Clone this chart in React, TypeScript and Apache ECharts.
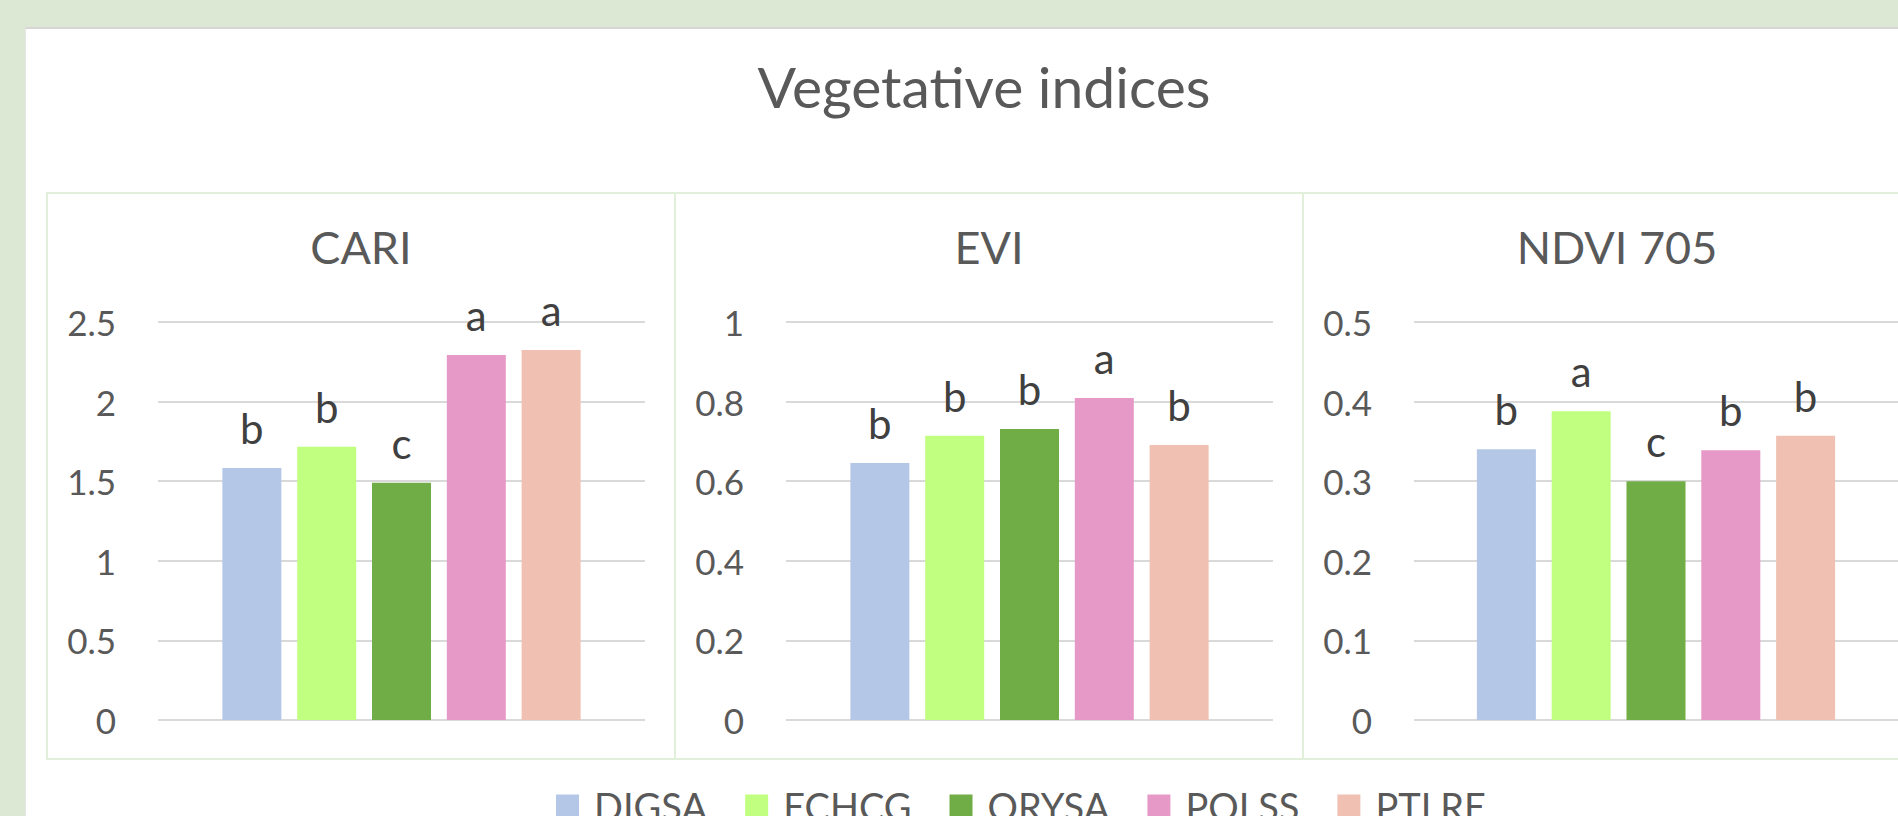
import React, { useEffect, useRef } from "react";
import * as echarts from "echarts";

const mainTitle = "Vegetative indices";
const species = ["DIGSA", "ECHCG", "ORYSA", "POLSS", "PTLRE"];
const speciesColors = ["#B4C7E7", "#C0FF80", "#70AD47", "#E699C6", "#F0C1B2"];
const indexNames = ["CARI", "EVI", "NDVI 705"];
const cariValues = [1.583, 1.717, 1.491, 2.293, 2.324];
const eviValues = [0.646, 0.714, 0.731, 0.809, 0.691];
const ndviValues = [0.34, 0.388, 0.3, 0.339, 0.357];
const cariLetters = ["b", "b", "c", "a", "a"];
const eviLetters = ["b", "b", "b", "a", "b"];
const ndviLetters = ["b", "a", "c", "b", "b"];
const axisMax = [2.5, 1, 0.5];
const axisStep = [0.5, 0.2, 0.1];

const FONT = "Lato, 'Open Sans', sans-serif";

export default function App() {
  const ref = useRef<HTMLDivElement>(null);

  useEffect(() => {
    if (!ref.current) return;
    const chart = echarts.init(ref.current, undefined, { renderer: "svg" });

    const values = [cariValues, eviValues, ndviValues];
    const letters = [cariLetters, eviLetters, ndviLetters];
    const panelLeft0 = 47;
    const panelW = 628;
    const panelTop = 193;
    const panelH = 566;
    const gridOffset = 111;
    const gridW = 487;
    const gridTop = 322;
    const gridH = 398;

    const grids: any[] = [];
    const xAxes: any[] = [];
    const yAxes: any[] = [];
    const series: any[] = [];
    const graphics: any[] = [];

    graphics.push({
      type: "text",
      x: 984,
      y: 86,
      style: {
        text: mainTitle,
        fontFamily: FONT,
        fontSize: 57,
        fill: "#595959",
        align: "center",
        verticalAlign: "middle",
      },
    });

    indexNames.forEach((name, g) => {
      const pl = panelLeft0 + g * panelW;
      graphics.push({
        type: "rect",
        shape: { x: pl, y: panelTop, width: panelW, height: panelH },
        style: { fill: "none", stroke: "#E2EFDA", lineWidth: 2 },
        z: -1,
      });
      graphics.push({
        type: "text",
        x: pl + panelW / 2,
        y: 247,
        style: {
          text: name,
          fontFamily: FONT,
          fontSize: 45,
          fill: "#595959",
          align: "center",
          verticalAlign: "middle",
        },
      });
      grids.push({
        left: pl + gridOffset,
        top: gridTop,
        width: gridW,
        height: gridH,
        containLabel: false,
      });
      xAxes.push({
        type: "category",
        gridIndex: g,
        data: [name],
        axisLine: { show: false },
        axisTick: { show: false },
        axisLabel: { show: false },
      });
      yAxes.push({
        type: "value",
        gridIndex: g,
        min: 0,
        max: axisMax[g],
        interval: axisStep[g],
        axisLine: { show: false },
        axisTick: { show: false },
        axisLabel: {
          fontFamily: FONT,
          fontSize: 35,
          color: "#595959",
          margin: 42,
        },
        splitLine: { lineStyle: { color: "#D9D9D9", width: 2 } },
      });
      species.forEach((sp, s) => {
        series.push({
          type: "bar",
          name: sp,
          xAxisIndex: g,
          yAxisIndex: g,
          data: [values[g][s]],
          barWidth: 59,
          barGap: "26.8%",
          itemStyle: { color: speciesColors[s] },
          label: {
            show: true,
            position: "top",
            distance: 19,
            formatter: letters[g][s],
            fontFamily: FONT,
            fontSize: 42,
            color: "#404040",
          },
        });
      });
    });

    chart.setOption({
      animation: false,
      backgroundColor: "transparent",
      grid: grids,
      xAxis: xAxes,
      yAxis: yAxes,
      series,
      graphic: graphics,
      legend: {
        data: species,
        left: 551,
        top: 782,
        itemWidth: 23,
        itemHeight: 23,
        itemGap: 38,
        icon: "rect",
        selectedMode: false,
        textStyle: {
          fontFamily: FONT,
          fontSize: 38,
          color: "#595959",
          padding: [0, 0, 0, 10],
        },
      },
    });

    return () => chart.dispose();
  }, []);

  return (
    <div
      style={{
        position: "fixed",
        left: 0,
        top: 0,
        width: 1898,
        height: 816,
        background: "#DCE7D4",
        overflow: "hidden",
      }}
    >
      <div
        style={{
          position: "absolute",
          left: 25,
          top: 27,
          width: 1900,
          height: 820,
          background: "#FFFFFF",
          borderTop: "2px solid #D6D6D6",
          borderLeft: "1px solid #E6E6E6",
        }}
      />
      <div
        ref={ref}
        style={{ position: "absolute", left: 0, top: 0, width: 1898, height: 816 }}
      />
    </div>
  );
}
